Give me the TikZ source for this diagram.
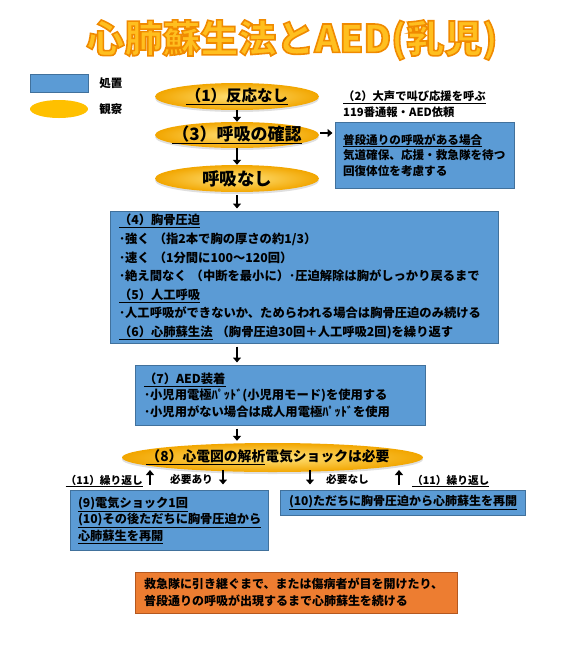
\documentclass[tikz,border=0pt]{standalone}
\usepackage{fontspec}
\setmainfont{Noto Sans CJK JP}
\usepackage{tikz}
\usetikzlibrary{arrows.meta,positioning,shapes.geometric,shadows}
\definecolor{cblue}{HTML}{5B9BD5}
\definecolor{cbluedk}{HTML}{41719C}
\definecolor{cyel}{HTML}{FFC000}
\definecolor{cyellt}{HTML}{FFE27A}
\definecolor{cyeldk}{HTML}{F2A600}
\definecolor{corange}{HTML}{ED7D31}
\definecolor{corangedk}{HTML}{B4581F}
\definecolor{ctitlefg}{HTML}{FFBF1F}
\definecolor{ctitledk}{HTML}{F08A00}
\newcommand{\cul}[1]{\underline{#1}}
% 縁取り文字 (塗り+線)
\newcommand{\coutline}[1]{\special{pdf:literal direct 2 Tr 1.6 w 0.94 0.54 0 RG}#1\special{pdf:literal direct 0 Tr}}
\tikzset{
  >={Triangle[length=5pt,width=8pt]},
  carr/.style={->, line width=2.6pt},
  cbox/.style={draw=cbluedk, fill=cblue, line width=1pt, align=left,
               inner xsep=9pt, inner ysep=0pt,
               font=\bfseries\fontsize{12.3}{18.6}\selectfont},
  coval/.style={ellipse, inner sep=0pt, minimum width=164pt, minimum height=27pt,
                inner color=cyellt, outer color=cyeldk,
                drop shadow={opacity=0.25, shadow xshift=0pt, shadow yshift=-2pt}},
  cotext/.style={font=\bfseries\fontsize{16}{18}\selectfont, inner sep=0pt},
  clbl/.style={font=\bfseries\fontsize{11.5}{14}\selectfont, inner sep=0pt},
  csmall/.style={font=\bfseries\fontsize{11.3}{16}\selectfont, align=left, inner sep=0pt},
  crow/.style={font=\bfseries\fontsize{10.7}{13}\selectfont, inner sep=0pt},
  ctitle/.style={font=\bfseries\fontsize{38}{40}\selectfont, text=ctitlefg, inner sep=0pt},
}
\begin{document}
\begin{tikzpicture}[x=1pt,y=-1pt]
  \useasboundingbox[fill=white] (0,0) rectangle (585,649);

  % タイトル
  \node[ctitle] (title) at (292,40) {\coutline{心肺蘇生法とAED(乳児)}};

  % 凡例
  \node[draw=cbluedk, fill=cblue, minimum width=58pt, minimum height=18pt] (legA) at (59,83) {};
  \node[clbl, right=11pt of legA] {処置};
  \node[ellipse, fill=cyel, minimum width=58pt, minimum height=18pt] (legB) at (59,109) {};
  \node[clbl, right=11pt of legB] {観察};

  % 観察
  \node[coval] (o1) at (237,96.5) {};
  \node[cotext, font=\bfseries\fontsize{15.5}{18}\selectfont] at (o1) {\cul{（1）反応なし}};
  \node[coval, minimum height=26pt] (o3) at (237,135) {};
  \node[cotext, font=\bfseries\fontsize{17}{19}\selectfont] at (o3) {\cul{（3）呼吸の確認}};
  \node[coval] (o4) at (237,178.5) {};
  \node[cotext, font=\bfseries\fontsize{17.5}{19}\selectfont] at (o4) {呼吸なし};

  \node[csmall, anchor=west] (call) at (343,104) {\cul{（2）大声で叫び応援を呼ぶ}\\119番通報・AED依頼};

  % 処置
  \node[cbox, font=\bfseries\fontsize{11.6}{15.5}\selectfont, inner xsep=8pt,
        text width=163pt, minimum height=66pt] (b3) at (424.5,155)
    {\cul{普段通りの呼吸がある場合}\\気道確保、応援・救急隊を待つ\\回復体位を考慮する\\[3pt]};
  \node[cbox, text width=370pt, minimum height=132pt] (b4) at (304,277)
    {\cul{（4）胸骨圧迫}\\
     ･強く （指2本で胸の厚さの約1/3）\\
     ･速く （1分間に100～120回）\\
     ･絶え間なく （中断を最小に）･圧迫解除は胸がしっかり戻るまで\\
     \cul{（5）人工呼吸}\\
     ･人工呼吸ができないか、ためらわれる場合は胸骨圧迫のみ続ける\\
     \cul{（6）心肺蘇生法} （胸骨圧迫30回＋人工呼吸2回)を繰り返す};
  \node[cbox, text width=272pt, minimum height=60pt,
        font=\bfseries\fontsize{12.3}{16.5}\selectfont] (b7) at (280,395)
    {\cul{（7）AED装着}\\･小児用電極ﾊﾟｯﾄﾞ(小児用モード)を使用する\\･小児用がない場合は成人用電極ﾊﾟｯﾄﾞを使用};

  \node[coval, minimum width=301pt, minimum height=29pt] (o8) at (272.5,457.5) {};
  \node[cotext, font=\bfseries\fontsize{13.8}{16}\selectfont] at (268,457.5)
    {\cul{（8）心電図の解析}電気ショックは必要};

  \node[cbox, inner xsep=8pt, text width=182pt, minimum height=60pt,
        font=\bfseries\fontsize{12.2}{16.5}\selectfont] (b9) at (169,520)
    {\cul{(9)電気ショック1回}\\\cul{(10)その後ただちに胸骨圧迫から}\\\cul{心肺蘇生を再開}};
  \node[cbox, text width=227pt, minimum height=25pt,
        font=\bfseries\fontsize{12}{16}\selectfont] (b10) at (402.5,502.5)
    {\cul{(10)ただちに胸骨圧迫から心肺蘇生を再開}};

  \node[cbox, draw=corangedk, fill=corange, text width=304pt, minimum height=41pt,
        font=\bfseries\fontsize{12}{17}\selectfont] (bend) at (296,592.5)
    {救急隊に引き継ぐまで、または傷病者が目を開けたり、\\普段通りの呼吸が出現するまで心肺蘇生を続ける};

  % 分岐のラベル
  \node[crow, anchor=east] (rep1) at (143,481) {\cul{（11）繰り返し}};
  \node[crow] (need) at (191.5,479) {必要あり};
  \node[crow] (noneed) at (347.5,479) {必要なし};
  \node[crow, anchor=west] (rep2) at (412,481) {\cul{（11）繰り返し}};
  \coordinate (cu1) at (150,470);
  \coordinate (cd1) at (223,470);
  \coordinate (cd2) at (310,470);
  \coordinate (cu2) at (399,470);

  % 矢印
  \draw[carr] (o1) ++(0,13.5) -- (o3.north);
  \draw[carr] (o3.south) -- (o4.north);
  \draw[carr, shorten <=1pt, shorten >=2pt] (o3.east) ++(0,-2) -- ([yshift=2pt]b3.west |- o3.east);
  \draw[carr, shorten <=3pt, shorten >=2pt] (o4.south) -- (b4.north -| o4.south);
  \draw[carr, shorten <=3pt, shorten >=2pt] (b4.south -| o4.south) -- (b7.north -| o4.south);
  \draw[carr, shorten <=3pt, shorten >=2pt] (b7.south -| o4.south) -- (o8.north -| o4.south);
  \draw[carr, shorten <=5pt] (b9.north -| cu1) -- (cu1);
  \draw[carr, shorten >=5pt] (cd1) -- (b9.north -| cd1);
  \draw[carr, shorten >=5pt] (cd2) -- (b10.north -| cd2);
  \draw[carr, shorten <=5pt] (b10.north -| cu2) -- (cu2);

\end{tikzpicture}
\end{document}
